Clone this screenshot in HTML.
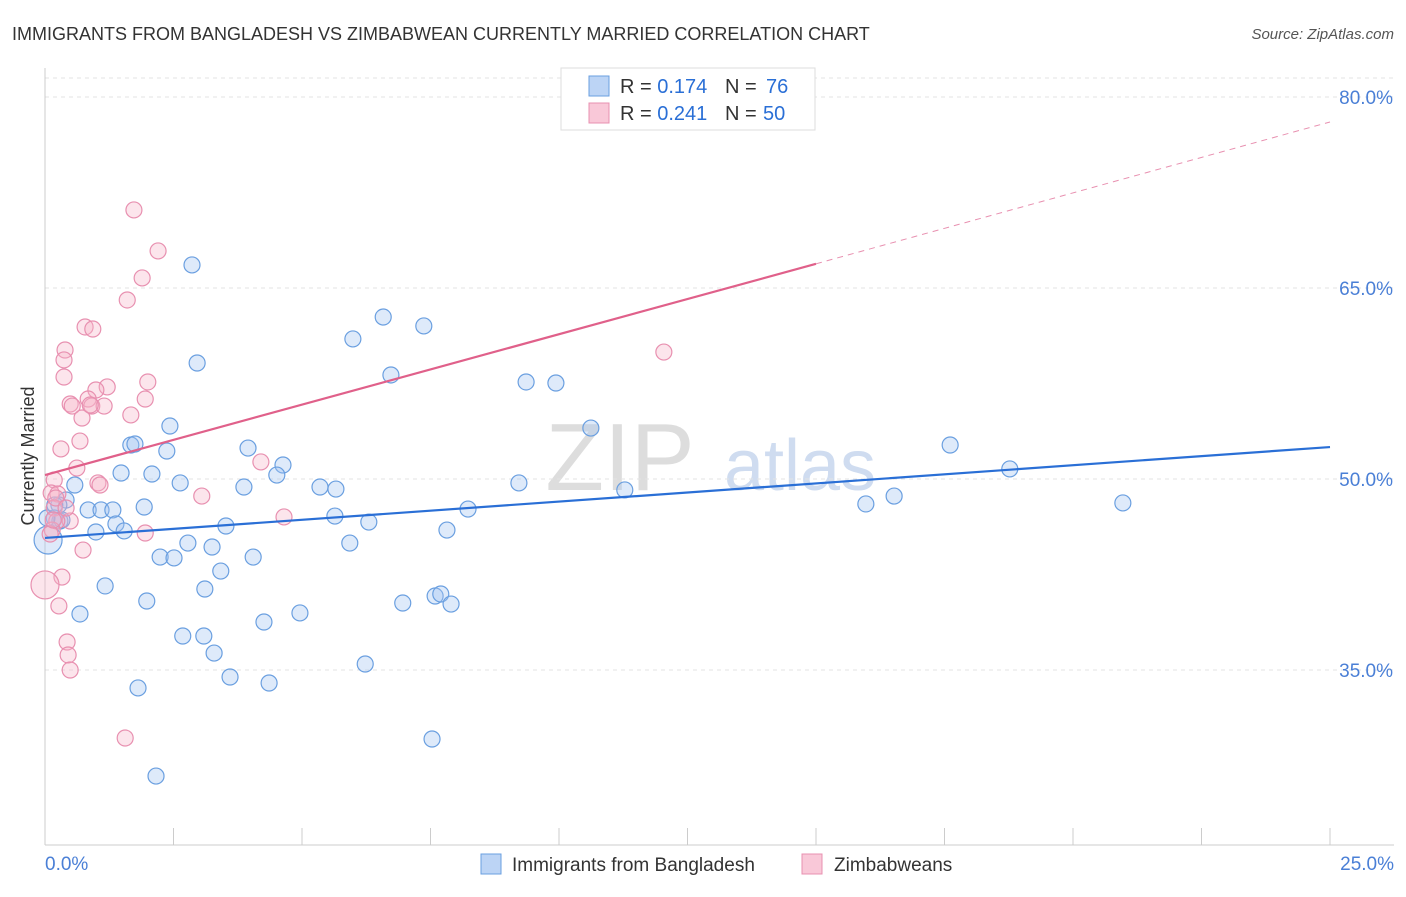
<!DOCTYPE html>
<html><head><meta charset="utf-8"><style>
body{margin:0;background:#fff;font-family:"Liberation Sans",sans-serif}
svg text{font-family:"Liberation Sans",sans-serif}
</style></head><body>
<svg id="chart" width="1406" height="892" xmlns="http://www.w3.org/2000/svg">
<text x="12" y="40" font-size="18" fill="#333">IMMIGRANTS FROM BANGLADESH VS ZIMBABWEAN CURRENTLY MARRIED CORRELATION CHART</text>
<text x="1394" y="39" font-size="15" fill="#555" text-anchor="end" font-style="italic">Source: ZipAtlas.com</text>
<text x="620" y="490" font-size="96" fill="#ddd" font-family="Liberation Serif" text-anchor="middle">ZIP</text>
<text x="800" y="490" font-size="72" fill="#cfdcf0" text-anchor="middle">atlas</text>
<g id="grid"></g><g id="axes"></g><g id="marks"></g>
<text x="34" y="456" font-size="18" fill="#333" text-anchor="middle" transform="rotate(-90 34 456)">Currently Married</text>
<g>
<rect x="561" y="68" width="254" height="62" fill="#fff" stroke="#ddd"/>
<rect x="589" y="76" width="20" height="20" fill="#bcd4f5" stroke="#6a9fe0"/>
<rect x="589" y="103" width="20" height="20" fill="#f9c8d8" stroke="#e890b0"/>
<text x="620" y="93" font-size="20" fill="#333">R = <tspan fill="#2a6fd6">0.174</tspan></text>
<text x="725" y="93" font-size="20" fill="#333">N =</text>
<text x="766" y="93" font-size="20" fill="#2a6fd6">76</text>
<text x="620" y="120" font-size="20" fill="#333">R = <tspan fill="#2a6fd6">0.241</tspan></text>
<text x="725" y="120" font-size="20" fill="#333">N =</text>
<text x="763" y="120" font-size="20" fill="#2a6fd6">50</text>
</g>
<g>
<rect x="481" y="854" width="20" height="20" fill="#bcd4f5" stroke="#6a9fe0"/>
<text x="512" y="871" font-size="19" fill="#333">Immigrants from Bangladesh</text>
<rect x="802" y="854" width="20" height="20" fill="#f9c8d8" stroke="#e890b0"/>
<text x="834" y="871" font-size="19" fill="#333">Zimbabweans</text>
</g>
</svg>
<script>
const yTicks=[35,50,65,80];
const xTickLabels=["0.0%","25.0%"];
const blueX=[2.86,6.58,7.37,5.99,2.96,6.73,9.36,9.94,10.62,2.43,1.67,1.75,3.95,2.37,17.61,4.63,18.77,1.48,2.08,4.51,2.63,5.35,5.66,3.87,9.22,11.28,0.58,0.41,16.52,15.97,20.97,1.93,0.84,1.09,1.32,0.27,0.18,0.29,5.64,8.23,6.30,3.52,1.38,0.99,1.54,7.82,2.78,5.93,3.25,2.24,2.51,4.05,3.42,1.17,3.11,0.68,1.98,4.96,6.96,7.59,7.70,7.9,4.26,2.68,3.09,3.29,6.23,3.6,4.36,1.81,7.53,2.16,0.04,0.19,0.33];
const blueY=[66.81,62.72,62.02,61.0,59.11,58.17,57.62,57.54,54.0,54.16,52.67,52.75,52.43,52.2,52.67,51.1,50.79,50.47,50.39,50.31,49.69,49.37,49.21,49.37,49.69,49.14,49.53,48.35,48.66,48.04,48.12,47.8,47.57,47.57,47.57,47.96,46.94,46.7,47.09,47.64,46.62,46.31,46.47,45.84,45.92,45.99,44.97,44.97,44.66,43.87,43.8,43.87,42.77,41.6,41.36,39.4,40.42,39.48,40.26,40.81,40.97,40.18,38.77,37.67,37.67,36.33,35.47,34.45,33.98,33.59,29.58,26.67,46.94,47.96,46.78];
const blueBig=[[0.06,45.21]];
const pinkX=[1.73,2.2,1.89,1.6,0.78,0.93,0.39,0.37,12.04,0.37,2.0,1.21,0.99,1.95,0.84,0.49,0.53,0.91,1.15,1.67,0.72,0.68,0.31,4.2,0.62,1.03,0.18,3.05,0.12,0.25,0.18,0.49,0.23,0.14,1.95,4.65,0.1,0.74,0.33,0.27,0.43,0.45,0.49,1.56,0.21,0.16,0.41,1.07,0.88];
const pinkY=[71.13,67.91,65.79,64.06,61.94,61.78,60.13,59.35,59.97,58.01,57.62,57.23,56.99,56.28,56.28,55.89,55.73,55.73,55.73,55.03,54.79,52.98,52.36,51.34,50.86,49.69,49.92,48.66,48.9,48.82,47.72,46.7,46.7,45.99,45.76,47.02,45.68,44.42,42.3,40.03,37.2,36.18,35.0,29.66,48.51,46.78,47.72,49.53,55.81];
const pinkBig=[[0,41.68]];
const blueLine=[[0,45.37],[25,52.51]];
const pinkLine=[[0,50.31],[15,66.9]];
const pinkDash=[[15,66.9],[25,78.04]];
const X=v=>45+v/25*1285, Y=v=>479-(v-50)*191/15;
const NS="http://www.w3.org/2000/svg";
function mk(p,t,a){const e=document.createElementNS(NS,t);for(const k in a)e.setAttribute(k,a[k]);p.appendChild(e);return e;}
const gridG=document.getElementById('grid'),axesG=document.getElementById('axes'),marksG=document.getElementById('marks');
yTicks.forEach(t=>{const l=mk(gridG,'line',{x1:45,x2:1394,y1:Y(t),y2:Y(t),stroke:'#e3e3e3','stroke-dasharray':'4,4'});


const tx=mk(gridG,'text',{x:1393,y:Y(t)+7,'font-size':19,fill:'#4a7fd6','text-anchor':'end'});tx.textContent=t.toFixed(1)+'%';

});
const topLine=mk(gridG,'line',{x1:45,x2:1394,y1:78,y2:78,stroke:'#e3e3e3','stroke-dasharray':'4,4'});


mk(axesG,'line',{x1:45,x2:45,y1:68,y2:845,stroke:'#ccc'});
mk(axesG,'line',{x1:45,x2:1394,y1:845,y2:845,stroke:'#ccc'});
for(let i=0;i<=10;i++){mk(axesG,'line',{x1:X(i*2.5),x2:X(i*2.5),y1:828,y2:845,stroke:'#ccc'});}
[['start',45],['end',1394]].forEach((d,i)=>{const t=mk(axesG,'text',{x:d[1],y:870,'font-size':19,fill:'#4a7fd6','text-anchor':d[0]});t.textContent=xTickLabels[i];

});
function dots(xs,ys,r,stroke,fill,name){xs.forEach((x,i)=>{const c=mk(marksG,'circle',{cx:X(x),cy:Y(ys[i]),r:r,fill:fill,stroke:stroke,'stroke-width':1.2});

});}
dots(blueX,blueY,8,'#6a9fe0','rgba(160,195,240,0.35)','bangladesh-point');
dots(blueBig.map(d=>d[0]),blueBig.map(d=>d[1]),14,'#6a9fe0','rgba(160,195,240,0.35)','bangladesh-point');
dots(pinkX,pinkY,8,'#e890b0','rgba(245,180,200,0.35)','zimbabwean-point');
dots(pinkBig.map(d=>d[0]),pinkBig.map(d=>d[1]),14,'#e890b0','rgba(245,180,200,0.35)','zimbabwean-point');
function ln(d,c,w,dash,name){const l=mk(marksG,'line',{x1:X(d[0][0]),y1:Y(d[0][1]),x2:X(d[1][0]),y2:Y(d[1][1]),stroke:c,'stroke-width':w});if(dash)l.setAttribute('stroke-dasharray',dash);

}
ln(blueLine,'#2a6fd6',2.2,null,'bangladesh-trendline');
ln(pinkLine,'#e0608a',2.2,null,'zimbabwean-trendline');
ln(pinkDash,'#e890b0',1,'6,5','zimbabwean-trendline-extension');
</script>
</body></html>
